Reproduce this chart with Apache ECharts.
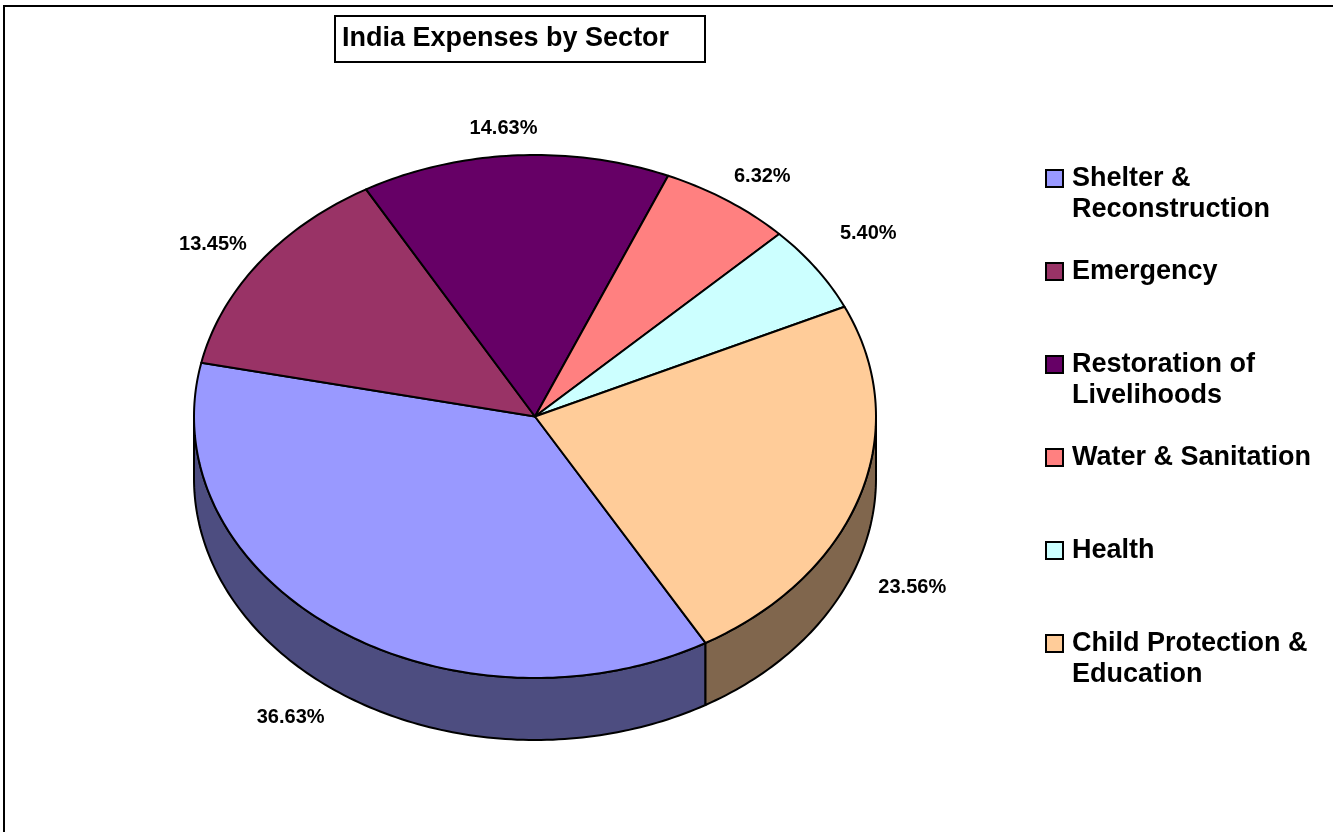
<!DOCTYPE html>
<html>
<head>
<meta charset="utf-8">
<title>India Expenses by Sector</title>
<script src="https://cdn.jsdelivr.net/npm/echarts@6/dist/echarts.min.js"></script>
<style>
  html, body { margin: 0; padding: 0; background: #fff; }
  #chart { width: 1333px; height: 832px; }
</style>
</head>
<body>
<div id="chart"></div>
<script>
// 数据
const categories = [
  'Shelter & Reconstruction',
  'Emergency',
  'Restoration of Livelihoods',
  'Water & Sanitation',
  'Health',
  'Child Protection & Education'
]
const values = [36.63, 13.45, 14.63, 6.32, 5.40, 23.56]
const colors = ['#9999FF', '#993366', '#660066', '#FF8080', '#CCFFFF', '#FFCC99']

// 饼图的几何参数（椭圆模拟 3D）
const cx = 535
const cy = 416.5
const rx = 341
const ry = 261.5
const depth = 62
// 第一块的起始角度（屏幕坐标，顺时针，0 = 右侧水平）
const startAngle = 60
// 标签微调
const labelOffset = [[-9, 3], [2, 0], [-8, 3], [1, 1], [3, -18], [-5, 21]]

const fontFamily = '"Liberation Sans", Arial, sans-serif'
const edgeWidth = 2

const total = values.reduce((s, v) => s + v, 0)
const starts = []
const ends = []
values.reduce((acc, v) => {
  starts.push(acc)
  ends.push(acc + v / total * 360)
  return acc + v / total * 360
}, startAngle)

// 颜色变暗（侧面）
const darken = (hex) => {
  const n = parseInt(hex.slice(1), 16)
  const r = Math.round(((n >> 16) & 255) / 2)
  const g = Math.round(((n >> 8) & 255) / 2)
  const b = Math.round((n & 255) / 2)
  return 'rgb(' + r + ',' + g + ',' + b + ')'
}

// 椭圆弧上的点
const arc = (a0, a1, yOff) => {
  const pts = []
  const steps = Math.max(2, Math.ceil(Math.abs(a1 - a0)))
  for (let k = 0; k <= steps; k++) {
    const a = (a0 + (a1 - a0) * k / steps) * Math.PI / 180
    pts.push([cx + rx * Math.cos(a), cy + yOff + ry * Math.sin(a)])
  }
  return pts
}

const renderItem = (params, api) => {
  const i = params.dataIndex
  const a0 = starts[i]
  const a1 = ends[i]
  const children = []

  // 侧面：只画前半部分 (0~180, 360~540)
  ;[[0, 180], [360, 540]].forEach(([lo, hi]) => {
    const s = Math.max(a0, lo)
    const e = Math.min(a1, hi)
    if (e > s) {
      const top = arc(s, e, 0)
      const bottom = arc(e, s, depth)
      children.push({
        type: 'polygon',
        z2: 0,
        shape: { points: top.concat(bottom) },
        style: { fill: darken(colors[i]), stroke: '#000', lineWidth: edgeWidth, lineJoin: 'round' }
      })
    }
  })

  // 顶面
  children.push({
    type: 'polygon',
    z2: 1,
    shape: { points: [[cx, cy]].concat(arc(a0, a1, 0)) },
    style: { fill: colors[i], stroke: '#000', lineWidth: edgeWidth, lineJoin: 'round' }
  })

  // 百分比标签
  const mid = (a0 + a1) / 2 * Math.PI / 180
  const sin = Math.sin(mid)
  const lx = cx + (rx + 60) * Math.cos(mid) + labelOffset[i][0]
  const ly = cy + (ry + 30) * sin + (sin > 0 ? depth : 0) + labelOffset[i][1]
  children.push({
    type: 'text',
    z2: 2,
    x: lx,
    y: ly,
    style: {
      text: api.value(0).toFixed(2) + '%',
      fill: '#000',
      font: 'bold 20px ' + fontFamily,
      align: 'center',
      verticalAlign: 'middle'
    }
  })

  return { type: 'group', children }
}

// 图例（用 graphic 画）
const legendGraphics = []
categories.forEach((name, i) => {
  const yc = 178.5 + i * 93
  legendGraphics.push({
    type: 'rect',
    shape: { x: 1046, y: yc - 8.5, width: 17, height: 17 },
    style: { fill: colors[i], stroke: '#000', lineWidth: 2 }
  })
  legendGraphics.push({
    type: 'text',
    x: 1072,
    y: yc - 15.5,
    style: {
      text: name,
      width: 255,
      overflow: 'break',
      lineHeight: 31,
      fill: '#000',
      font: 'bold 27px ' + fontFamily,
      align: 'left',
      verticalAlign: 'top'
    }
  })
})

const chart = echarts.init(document.getElementById('chart'), null, { renderer: 'canvas' })

const option = {
  backgroundColor: '#fff',
  animation: false,
  title: {
    text: 'India Expenses by Sector',
    left: 335,
    top: 16,
    padding: [7, 36, 7, 7],
    borderColor: '#000',
    borderWidth: 2,
    textStyle: {
      fontFamily: fontFamily,
      fontWeight: 'bold',
      fontSize: 27,
      lineHeight: 32,
      color: '#000'
    }
  },
  graphic: [
    {
      type: 'rect',
      shape: { x: 4, y: 6, width: 1400, height: 900 },
      style: { fill: 'none', stroke: '#000', lineWidth: 2 }
    }
  ].concat(legendGraphics),
  series: [
    {
      type: 'custom',
      coordinateSystem: 'none',
      renderItem: renderItem,
      data: values.map((v, i) => ({ name: categories[i], value: [v] }))
    }
  ]
}

chart.setOption(option)
</script>
</body>
</html>
